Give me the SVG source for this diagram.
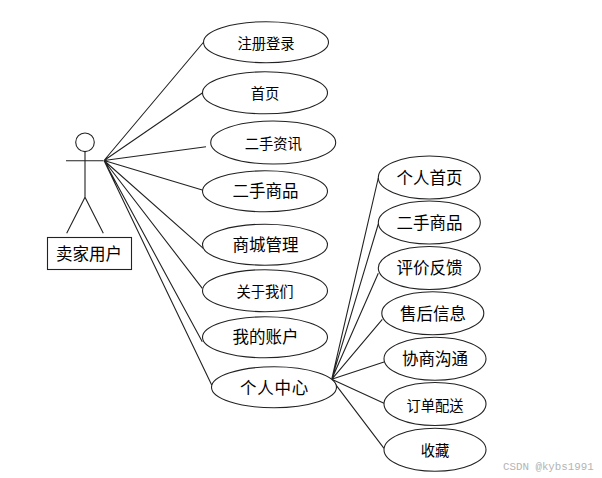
<svg xmlns="http://www.w3.org/2000/svg" width="602" height="478" viewBox="0 0 602 478">
<style>
.s{fill:none;stroke:#222;stroke-width:1.1}
ellipse,rect.b{fill:#fff;stroke:#222;stroke-width:1.1}
text{font-family:"Noto Sans CJK SC","Liberation Sans",sans-serif;fill:#000;text-anchor:middle;dominant-baseline:central}
.m{font-size:14.3px}.l{font-size:16.5px}
.w{font-family:"Liberation Mono",monospace;font-size:10.8px;fill:#b4b4b4;text-anchor:start}
</style>
<rect width="602" height="478" fill="#fff"/>
<g id="connectors" class="s">
<path d="M104 160.5L203.7 42M104 160.5L202.3 93M104 160.5L206 146.7M104 160.5L202.3 190M104 160.5L203.3 248.3M104 160.5L202.3 288.3M104 160.5L202.3 341.7M104 160.5L211.7 385"/>
<path d="M331.7 379.3L378.3 178M331.7 379.3L378.3 224M331.7 379.3L378.3 273.3M331.7 379.3L382.3 319.3M331.7 379.3L384 362M331.7 379.3L384 403.3M331.7 379.3L384 448.3"/>
</g>
<g id="actor">
<circle class="s" cx="85" cy="142.3" r="9.3"/>
<path class="s" d="M66 160.7H103.5M85 151.6V197.3M85 197.3L66.7 233.3M85 197.3L103.3 233.3"/>
<rect class="b" x="47.5" y="237.5" width="84" height="32"/>
<text class="l" x="89" y="252.5">卖家用户</text>
</g>
<g id="n1"><ellipse cx="266" cy="42.2" rx="62.5" ry="20.5"/><text class="m" x="266" y="42">注册登录</text></g>
<g id="n2"><ellipse cx="265" cy="92.8" rx="62.5" ry="21"/><text class="m" x="265" y="92">首页</text></g>
<g id="n3"><ellipse cx="273.2" cy="142.5" rx="62.5" ry="21.5"/><text class="m" x="273.3" y="142">二手资讯</text></g>
<g id="n4"><ellipse cx="265" cy="191.3" rx="62.5" ry="20.5"/><text class="l" x="265.5" y="190">二手商品</text></g>
<g id="n5"><ellipse cx="265" cy="244.7" rx="62.5" ry="20.5"/><text class="l" x="265.5" y="244">商城管理</text></g>
<g id="n6"><ellipse cx="265" cy="290.7" rx="62.5" ry="21"/><text class="m" x="265" y="290">关于我们</text></g>
<g id="n7"><ellipse cx="265" cy="337.3" rx="62.5" ry="20.5"/><text class="l" x="265.5" y="336">我的账户</text></g>
<g id="n8"><ellipse cx="274" cy="387.3" rx="62.5" ry="20.5"/><text class="l" x="274.5" y="386.5" style="letter-spacing:.7px">个人中心</text></g>
<g id="m1"><ellipse cx="429.3" cy="177.5" rx="51" ry="21.5"/><text class="l" x="429.5" y="176.5">个人首页</text></g>
<g id="m2"><ellipse cx="429.3" cy="222.5" rx="51" ry="21.5"/><text class="l" x="429.5" y="221.5">二手商品</text></g>
<g id="m3"><ellipse cx="429.3" cy="268" rx="51" ry="21.5"/><text class="l" x="429.5" y="267">评价反馈</text></g>
<g id="m4"><ellipse cx="432.8" cy="313.3" rx="51" ry="21.5"/><text class="l" x="433" y="312.5">售后信息</text></g>
<g id="m5"><ellipse cx="435" cy="358.7" rx="51" ry="21.5"/><text class="l" x="435" y="358">协商沟通</text></g>
<g id="m6"><ellipse cx="435" cy="404" rx="51" ry="21.5"/><text class="m" x="435" y="404">订单配送</text></g>
<g id="m7"><ellipse cx="435" cy="449.7" rx="51" ry="21.5"/><text class="m" x="435" y="449">收藏</text></g>
<text class="w" x="503" y="467">CSDN @kybs1991</text>
</svg>
